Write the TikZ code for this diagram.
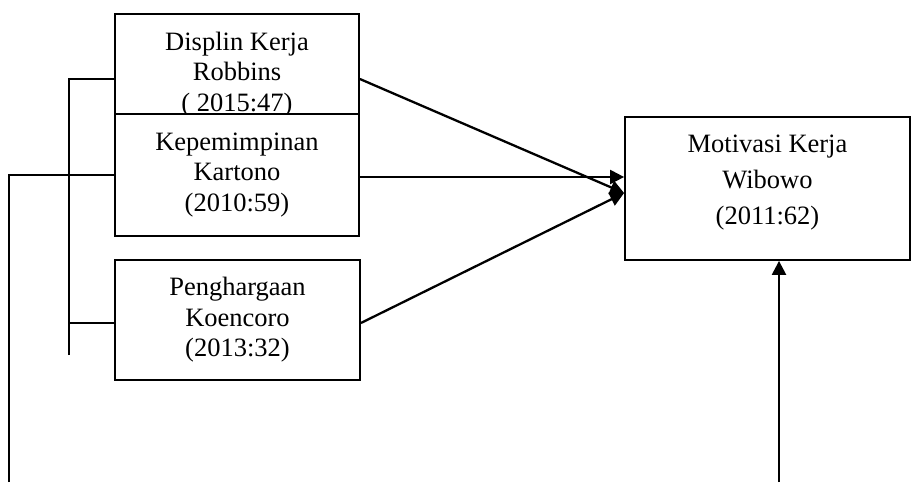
\documentclass[tikz,border=0pt]{standalone}
\usepackage{fontspec}
\setmainfont{Liberation Serif}
\usetikzlibrary{arrows.meta}
\begin{document}
\begin{tikzpicture}[x=1pt,y=-1pt,
  box/.style={draw,line width=1.8pt,fill=white,rectangle,align=center,inner sep=0pt,
    font=\fontsize{26.5}{30.5}\selectfont},
  thin/.style={line width=1.2pt},
  arr/.style={line width=2.3pt,-{Triangle[length=14pt,width=14pt]}}]
\useasboundingbox (0,0) rectangle (912,482);
\node[box,minimum width=244pt,minimum height=121pt] (b1) at (237,74.5) {Displin Kerja\\Robbins\\( 2015:47)};
\node[box,minimum width=244pt,minimum height=122pt] (b2) at (237,175) {Kepemimpinan\\Kartono\\(2010:59)};
\node[box,minimum width=245pt,minimum height=120pt] (b3) at (237.5,320) {Penghargaan\\Koencoro\\(2013:32)};
\node[box,minimum width=285pt,minimum height=143pt,font=\fontsize{26.5}{36}\selectfont] (b4) at (767.5,188.5) {Motivasi Kerja\\Wibowo\\(2011:62)\rule[-18pt]{0pt}{18pt}};
% left connectors
\coordinate (t1) at (69,79);
\coordinate (t1b) at (69,355);
\coordinate (t3) at (69,323);
\coordinate (u1) at (9,175);
\coordinate (u1b) at (9,482);
\draw[thin] (t1b) -- (t1) -- (b1.west |- t1);
\draw[thin] (t3) -- (b3.west |- t3);
\draw[thin] (u1b) -- (u1) -- (b2.west |- u1);
% arrows
\coordinate (in1) at (b4.west |- 0,193);
\coordinate (s1) at (b1.east |- t1);
\coordinate (s3) at (b3.east |- t3);
\draw[arr] (s1) -- (in1);
\draw[arr] (b2.east |- 0,177) -- (b4.west |- 0,177);
\draw[arr] (s3) -- (in1);
\coordinate (bt) at (779,482);
\draw[arr] (bt) -- (b4.south -| bt);
\end{tikzpicture}
\end{document}
